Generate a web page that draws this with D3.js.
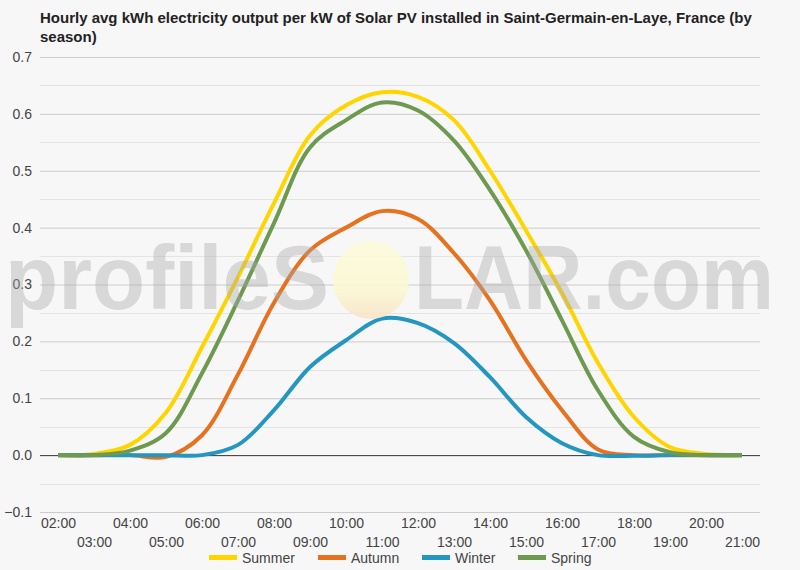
<!DOCTYPE html>
<html>
<head>
<meta charset="utf-8">
<script src="https://cdn.jsdelivr.net/npm/d3@7"></script>
<style>
    body { margin: 0; background: #f7f7f7; }
    svg { display: block; font-family: "Liberation Sans", Arial, sans-serif; }
</style>
</head>
<body>
<svg id="chart" width="800" height="570" viewBox="0 0 800 570"></svg>
<script>
const hours = ["02:00", "03:00", "04:00", "05:00", "06:00", "07:00", "08:00", "09:00", "10:00", "11:00",
    "12:00", "13:00", "14:00", "15:00", "16:00", "17:00", "18:00", "19:00", "20:00", "21:00"];
const summer = [0, 0.002, 0.018, 0.075, 0.19, 0.313, 0.443, 0.562, 0.615, 0.638,
    0.63, 0.589, 0.5, 0.395, 0.285, 0.162, 0.067, 0.014, 0.002, 0];
const autumn = [0, 0, 0, -0.003, 0.035, 0.142, 0.268, 0.36, 0.4, 0.429,
    0.415, 0.355, 0.272, 0.167, 0.079, 0.01, 0, 0, 0, 0];
const winter = [0, 0, 0, 0, 0, 0.018, 0.079, 0.155, 0.202, 0.24,
    0.232, 0.197, 0.137, 0.067, 0.021, 0, -0.001, 0, 0, 0];
const spring = [0, 0, 0.008, 0.039, 0.144, 0.272, 0.408, 0.541, 0.589, 0.62,
    0.606, 0.553, 0.466, 0.36, 0.237, 0.114, 0.032, 0.005, 0, 0];
const series_names = ["Summer", "Autumn", "Winter", "Spring"];
const series_values = [summer, autumn, winter, spring];
const y_ticks = [-0.1, 0, 0.1, 0.2, 0.3, 0.4, 0.5, 0.6, 0.7];
const colors = ["#ffd500", "#e6711f", "#2596c0", "#6e9a50"];

const svg = d3.select('#chart');
const plot_left = 40, plot_right = 760, plot_top = 57, plot_bottom = 512;

svg.append("rect").attr("width", 800).attr("height", 570).attr("fill", "#f7f7f7");

// title
svg.append("text")
    .attr("x", 40).attr("y", 23)
    .attr("font-size", 15).attr("font-weight", "bold").attr("fill", "#222")
    .text("Hourly avg kWh electricity output per kW of Solar PV installed in Saint-Germain-en-Laye, France (by");
svg.append("text")
    .attr("x", 40).attr("y", 42)
    .attr("font-size", 15).attr("font-weight", "bold").attr("fill", "#222")
    .text("season)");

const x_scale = d3.scalePoint()
    .domain(hours)
    .range([plot_left, plot_right])
    .padding(0.5);

const y_scale = d3.scaleLinear()
    .domain([-0.1, 0.7])
    .range([plot_bottom, plot_top]);

// minor grid
const minor = d3.range(-0.05, 0.7, 0.1);
svg.append("g").selectAll("line")
    .data(minor)
    .enter().append("line")
    .attr("x1", plot_left).attr("x2", plot_right)
    .attr("y1", d => Math.round(y_scale(d)) + 0.5)
    .attr("y2", d => Math.round(y_scale(d)) + 0.5)
    .attr("stroke", "#e4e4e4");

// y axis
const y_axis = d3.axisLeft(y_scale)
    .tickValues(y_ticks)
    .tickSize(-(plot_right - plot_left))
    .tickPadding(8);
const yg = svg.append("g")
    .attr("transform", "translate(" + plot_left + ",0)")
    .call(y_axis);
yg.select(".domain").remove();
yg.selectAll(".tick line").attr("stroke", d => d === 0 ? "#333" : "#cccccc");
yg.selectAll(".tick text")
    .attr("font-size", 14).attr("fill", "#444")
    .attr("font-family", "'Liberation Sans', Arial, sans-serif")
    .text(d => d === 0 ? "0.0" : d3.format(".1f")(d));

// x axis (labels alternate between two rows)
const x_axis = d3.axisBottom(x_scale)
    .tickSize(0)
    .tickPadding(6);
const xg = svg.append("g")
    .attr("transform", "translate(0," + plot_bottom + ")")
    .call(x_axis);
xg.select(".domain").remove();
xg.selectAll(".tick text")
    .attr("font-size", 14).attr("fill", "#444")
    .attr("font-family", "'Liberation Sans', Arial, sans-serif")
    .attr("dy", (d, i) => i % 2 === 0 ? "0.71em" : "2.04em");

// lines
const line = d3.line()
    .x((d, i) => x_scale(hours[i]))
    .y(d => y_scale(d))
    .curve(d3.curveCatmullRom.alpha(0.5));

svg.append("g").selectAll("path")
    .data(series_values)
    .enter().append("path")
    .attr("d", d => line(d))
    .attr("fill", "none")
    .attr("stroke", (d, i) => colors[i])
    .attr("stroke-width", 4)
    .attr("stroke-linejoin", "round");

// watermark
const defs = svg.append("defs");
const grad = defs.append("linearGradient").attr("id", "sun")
    .attr("x1", 0).attr("y1", 0).attr("x2", 0).attr("y2", 1);
grad.append("stop").attr("offset", "0%").attr("stop-color", "#fcfbd8");
grad.append("stop").attr("offset", "60%").attr("stop-color", "#fbf8d2");
grad.append("stop").attr("offset", "100%").attr("stop-color", "#f8e3c4");

const wm = svg.append("g");
wm.append("ellipse")
    .attr("cx", 371).attr("cy", 280).attr("rx", 38).attr("ry", 39)
    .attr("fill", "url(#sun)").attr("opacity", 0.85);
wm.append("text")
    .attr("x", 5).attr("y", 309)
    .attr("font-size", 90).attr("font-weight", "bold")
    .attr("fill", "#a8a8a8").attr("opacity", 0.38)
    .attr("textLength", 324).attr("lengthAdjust", "spacingAndGlyphs")
    .text("profileS");
wm.append("text")
    .attr("x", 414).attr("y", 309)
    .attr("font-size", 90).attr("font-weight", "bold")
    .attr("fill", "#a8a8a8").attr("opacity", 0.38)
    .attr("textLength", 360).attr("lengthAdjust", "spacingAndGlyphs")
    .text("LAR.com");

// legend
const legend_x = [209, 318, 422, 518];
const legend = svg.append("g").selectAll("g")
    .data(series_names)
    .enter().append("g")
    .attr("transform", (d, i) => "translate(" + legend_x[i] + ",558)");
legend.append("rect")
    .attr("x", 0).attr("y", -3).attr("width", 28).attr("height", 5)
    .attr("fill", (d, i) => colors[i]);
legend.append("text")
    .attr("x", 33).attr("y", 5)
    .attr("font-size", 14).attr("fill", "#444")
    .text(d => d);
</script>
</body>
</html>
